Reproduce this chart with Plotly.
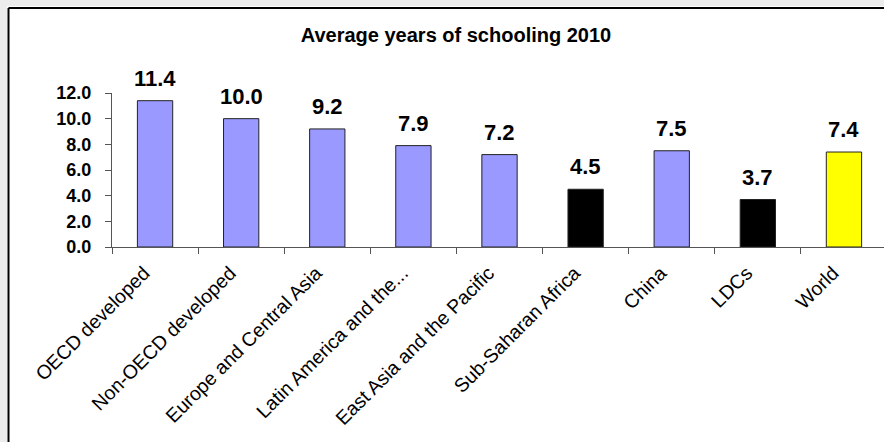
import plotly.graph_objects as go

categories = ["OECD developed", "Non-OECD developed", "Europe and Central Asia",
              "Latin America and the...", "East Asia and the Pacific",
              "Sub-Saharan Africa", "China", "LDCs", "World"]
values = [11.4, 10.0, 9.2, 7.9, 7.2, 4.5, 7.5, 3.7, 7.4]
bar_colors = ["#9999FF", "#9999FF", "#9999FF", "#9999FF", "#9999FF",
              "#000000", "#9999FF", "#000000", "#FFFF00"]
value_labels = [f"{v:.1f}" for v in values]
y_ticks = [0, 2, 4, 6, 8, 10, 12]

W, H = 884, 442
ML, MT, MB = 112, 93, 195
plot_w = W - ML
plot_h = H - MT - MB

fig = go.Figure()
fig.add_trace(go.Bar(
    x=categories, y=values,
    marker=dict(color=bar_colors, line=dict(color="#222222", width=1)),
    width=0.41, hoverinfo="x+y",
))

for c, v, t in zip(categories, values, value_labels):
    fig.add_annotation(x=c, y=v, text=t, showarrow=False, yanchor="bottom",
                       yshift=8, font=dict(family="Liberation Sans", size=22,
                                           color="#000000", weight="bold"))

def px_x(p):
    return (p - ML) / plot_w

def px_y(p):
    return (H - MB - p) / plot_h

# spreadsheet backdrop + chart border
fig.add_shape(type="rect", xref="paper", yref="paper", x0=px_x(0), x1=px_x(7),
              y0=px_y(H), y1=px_y(0), fillcolor="#ececec", line_width=0, layer="below")
fig.add_shape(type="rect", xref="paper", yref="paper", x0=px_x(0), x1=px_x(W),
              y0=px_y(6), y1=px_y(0), fillcolor="#ececec", line_width=0, layer="below")
fig.add_shape(type="line", xref="paper", yref="paper", x0=px_x(8.5), x1=px_x(W + 5),
              y0=px_y(8), y1=px_y(8), line=dict(color="#000000", width=2))
fig.add_shape(type="line", xref="paper", yref="paper", x0=px_x(8.5), x1=px_x(8.5),
              y0=px_y(8), y1=px_y(H + 5), line=dict(color="#000000", width=2))

fig.update_layout(
    width=W, height=H,
    margin=dict(l=ML, r=0, t=MT, b=MB, pad=0),
    paper_bgcolor="#ffffff", plot_bgcolor="#ffffff",
    showlegend=False, bargap=0.59,
    title=dict(text="<b>Average years of schooling 2010</b>",
               x=456 / W, xanchor="center", xref="container",
               y=1 - 35 / H, yanchor="middle", yref="container",
               font=dict(family="Liberation Sans", size=20, color="#000000")),
    font=dict(family="Liberation Sans", color="#000000"),
)
fig.update_xaxes(
    range=[-0.5, 8.465], showgrid=False, showline=True, linecolor="#555555", linewidth=1,
    ticks="outside", ticklen=6, tickcolor="#555555", tickson="boundaries",
    tickangle=-45, ticklabelshift=-11, ticklabelstandoff=6,
    tickfont=dict(family="Liberation Sans", size=19.5, color="#000000"),
    fixedrange=True,
)
fig.update_yaxes(
    range=[0, 12], tickvals=y_ticks, tickformat=".1f", showgrid=False, zeroline=False,
    showline=True, linecolor="#555555", linewidth=1, ticks="outside", ticklen=6,
    tickcolor="#555555", ticklabelstandoff=10,
    tickfont=dict(family="Liberation Sans", size=18, color="#000000", weight="bold"),
    fixedrange=True,
)

fig.write_html("out.html")
